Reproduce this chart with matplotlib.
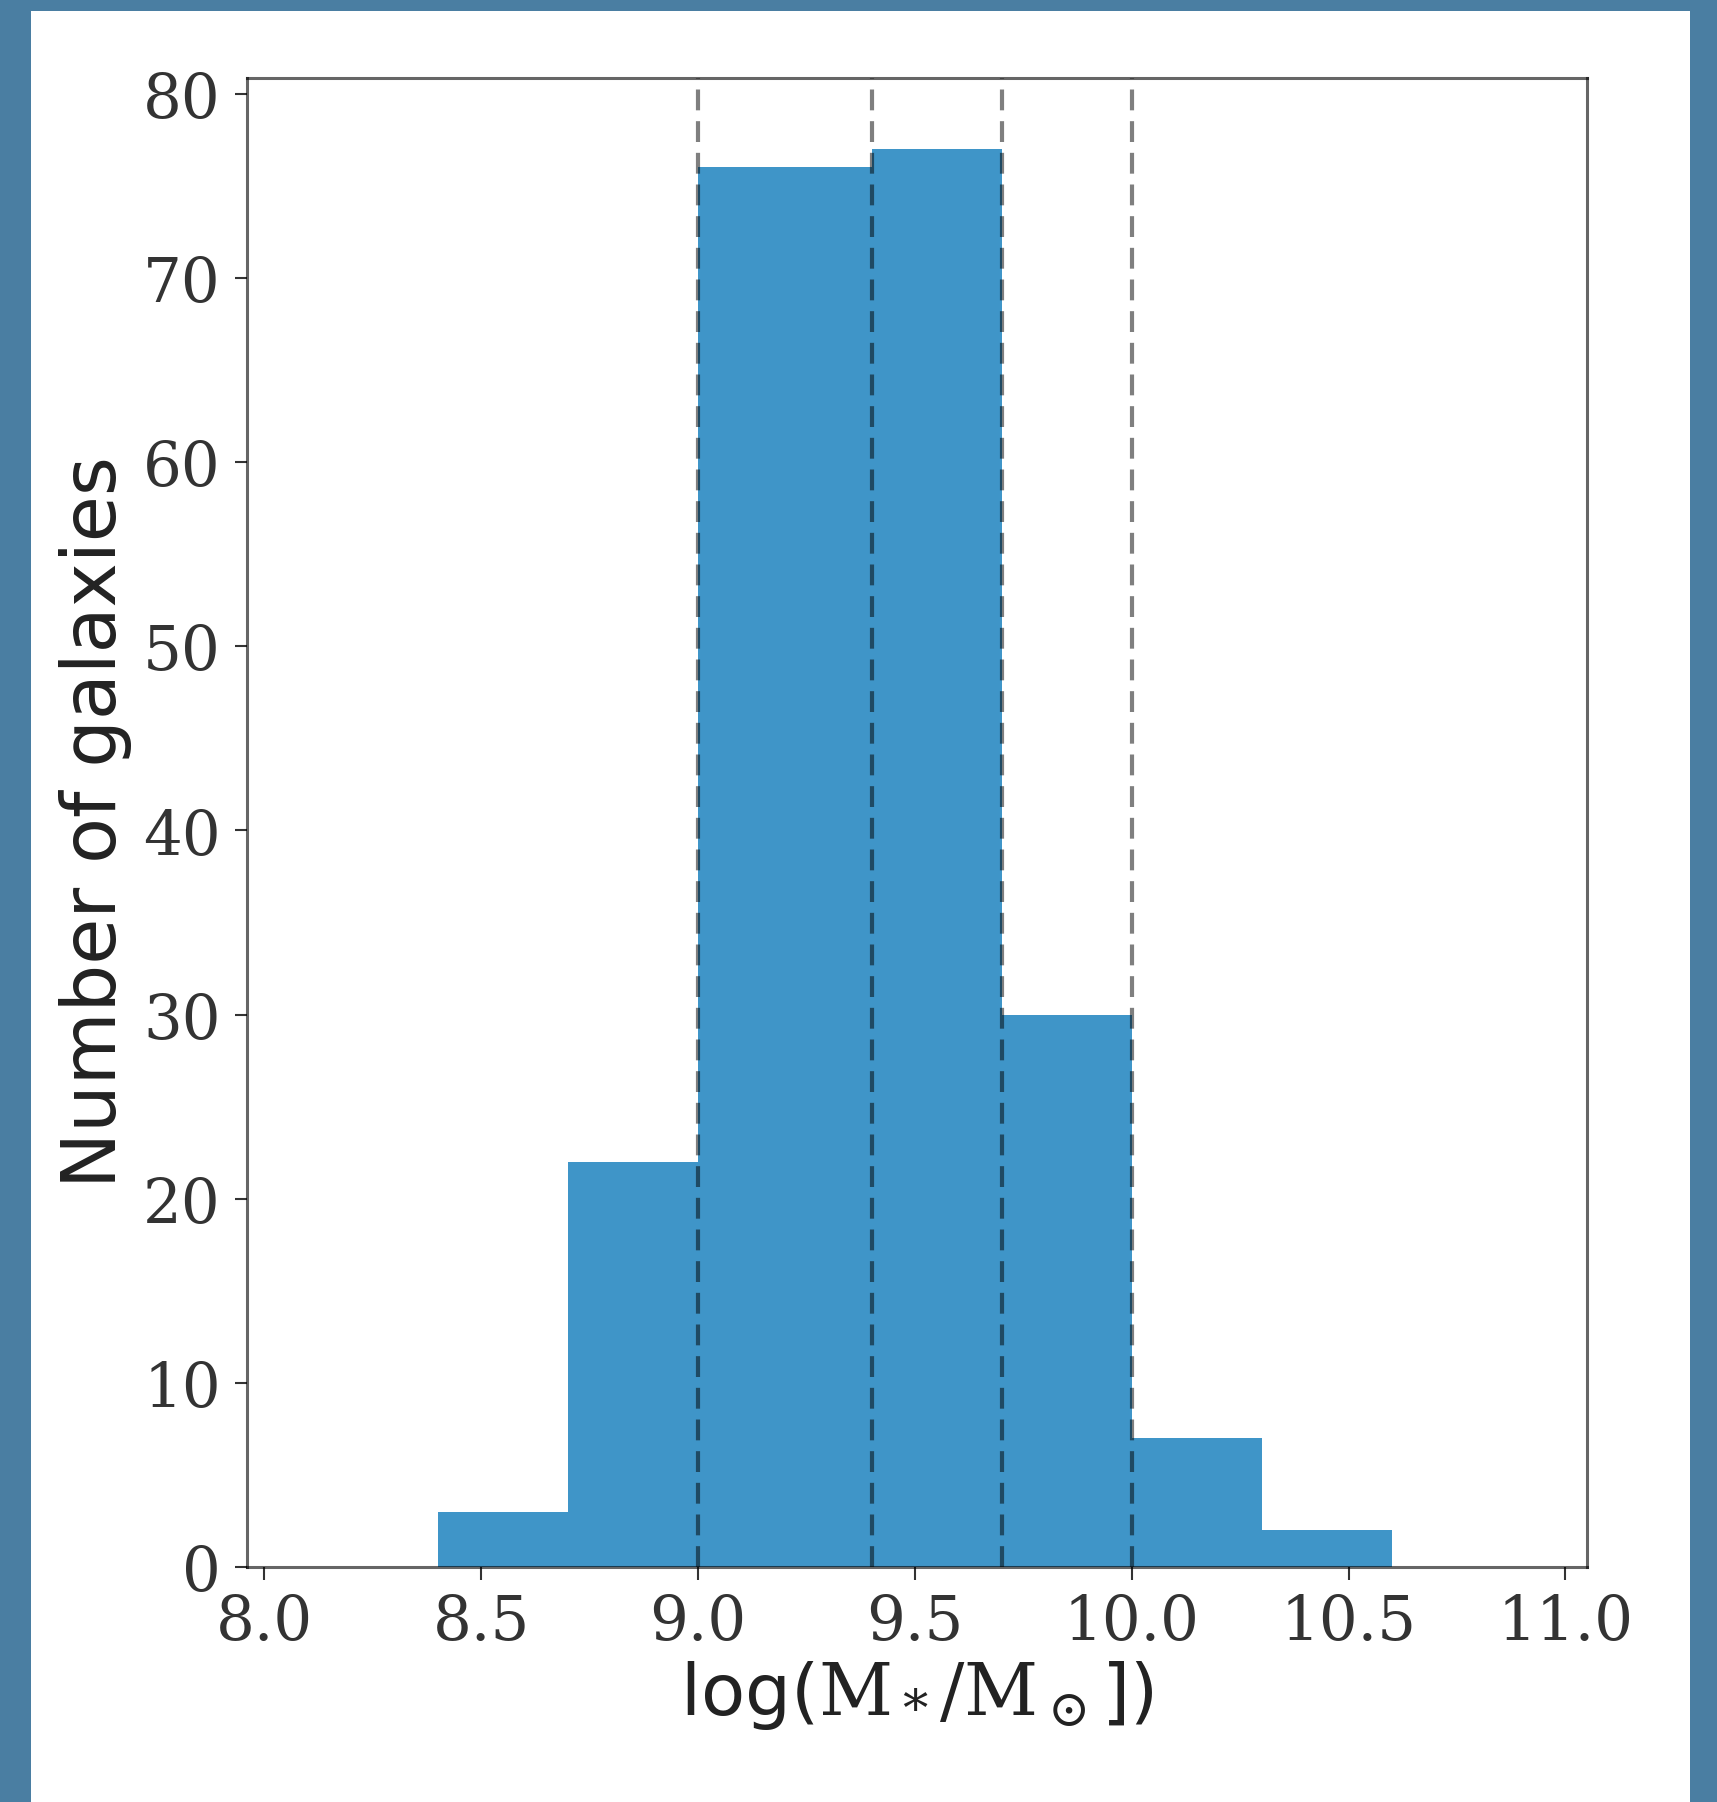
import numpy as np
import matplotlib.pyplot as plt
from matplotlib.patches import Rectangle

plt.rcParams['font.family'] = ['DejaVu Serif']
plt.rcParams['mathtext.fontset'] = 'dejavuserif'

# histogram of stellar masses (counts per bin)
bin_edges = [8.4, 8.7, 9.0, 9.4, 9.7, 10.0, 10.3, 10.6]
counts = [3, 22, 76, 77, 30, 7, 2]
mass_cuts = [9.0, 9.4, 9.7, 10.0]
xticks = [8.0, 8.5, 9.0, 9.5, 10.0, 10.5, 11.0]
yticks = [0, 10, 20, 30, 40, 50, 60, 70, 80]

fig = plt.figure(figsize=(17.17, 18.02), dpi=100)
fig.patch.set_facecolor('#4a7ea2')
# white card behind the plot
fig.patches.append(Rectangle((31 / 1717, 0), (1690 - 31) / 1717, (1802 - 11) / 1802,
                             transform=fig.transFigure, facecolor='white',
                             edgecolor='none', zorder=-1))

ax = fig.add_axes([0.1439, 0.1304, 0.7804, 0.8263])
ax.hist(bin_edges[:-1], bins=bin_edges, weights=counts, color='#3f95c8')
for m in mass_cuts:
    ax.axvline(m, color='k', alpha=0.5, lw=3, linestyle=(0, (5, 2.6)))

ax.set_xlim(7.96, 11.05)
ax.set_xticks(xticks)
ax.set_yticks(yticks)
ax.tick_params(direction='out', length=9, width=1.5, pad=10, labelsize=44,
               colors='#333333')

for s in ax.spines.values():
    s.set_color('k')
    s.set_alpha(0.6)
    s.set_linewidth(2.2)

ax.set_ylabel('Number of galaxies', family='DejaVu Sans', fontsize=54,
              color='#222222', labelpad=8)
ax.set_xlabel(r'log($\mathrm{M_*/M_\odot}$])', family='DejaVu Sans', fontsize=52,
              color='#222222', labelpad=4)

fig.savefig('out.png', dpi=100, facecolor=fig.get_facecolor())
